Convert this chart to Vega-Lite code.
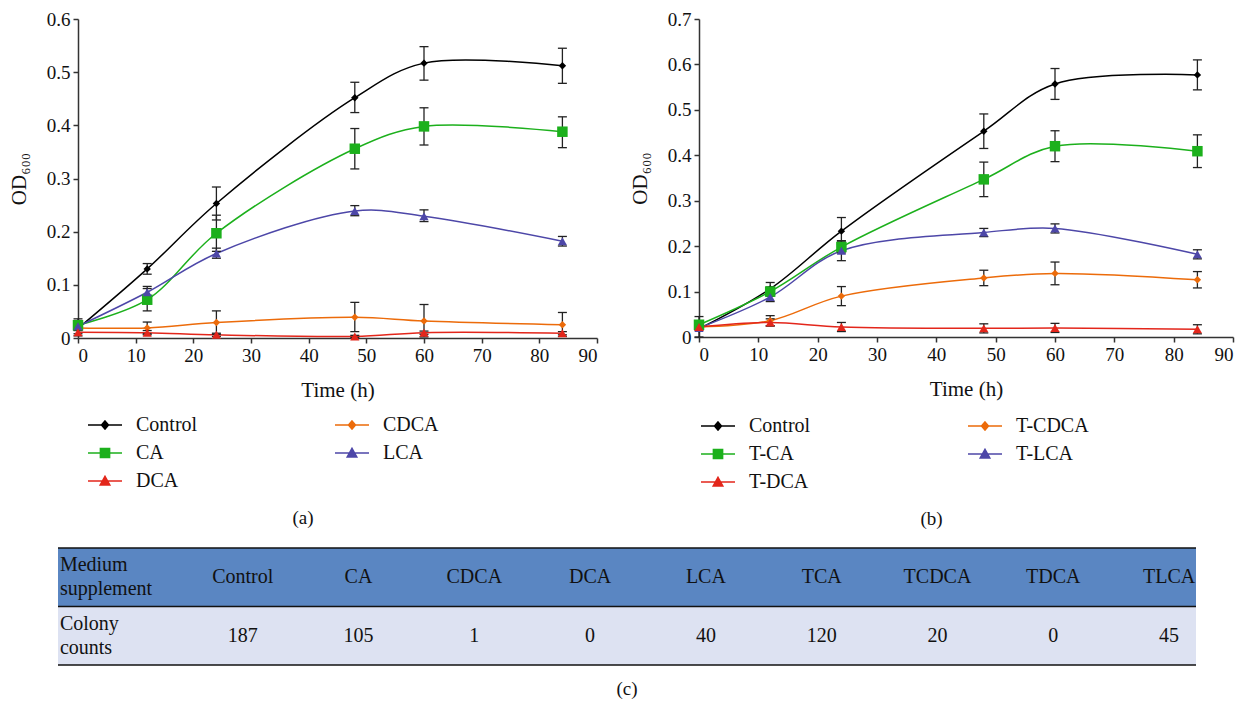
{
  "$schema": "https://vega.github.io/schema/vega-lite/v6.json",
  "background": "white",
  "padding": {"left": 8, "top": 10, "right": 5, "bottom": 5},
  "config": {
    "view": {"stroke": null},
    "font": "Liberation Serif",
    "style": {"guide-label": {"font": "Liberation Serif"}, "guide-title": {"font": "Liberation Serif"}, "group-title": {"font": "Liberation Serif"}},
    "axis": {"labelFont": "Liberation Serif", "titleFont": "Liberation Serif", "labelFontSize": 19, "titleFontSize": 21, "titleFontWeight": "normal", "labelColor": "#111", "titleColor": "#111", "domainColor": "#333", "tickColor": "#333", "domainWidth": 1.5, "tickWidth": 1.5, "tickSize": 5, "grid": false, "labelPadding": 3},
    "legend": {"labelFont": "Liberation Serif", "labelFontSize": 20, "labelColor": "#111"},
    "title": {"font": "Liberation Serif", "fontSize": 19, "fontWeight": "normal", "color": "#111"}
  },
  "datasets": {
    "a": [
      {"s": "Control", "t": 0, "v": 0.018, "lo": 0.004, "hi": 0.036},
      {"s": "Control", "t": 12, "v": 0.13, "lo": 0.12, "hi": 0.14},
      {"s": "Control", "t": 24, "v": 0.253, "lo": 0.222, "hi": 0.284},
      {"s": "Control", "t": 48, "v": 0.452, "lo": 0.424, "hi": 0.481},
      {"s": "Control", "t": 60, "v": 0.517, "lo": 0.485, "hi": 0.548},
      {"s": "Control", "t": 84, "v": 0.512, "lo": 0.479, "hi": 0.545},
      {"s": "CA", "t": 0, "v": 0.024, "lo": 0.018, "hi": 0.03},
      {"s": "CA", "t": 12, "v": 0.072, "lo": 0.051, "hi": 0.093},
      {"s": "CA", "t": 24, "v": 0.197, "lo": 0.163, "hi": 0.231},
      {"s": "CA", "t": 48, "v": 0.356, "lo": 0.318, "hi": 0.394},
      {"s": "CA", "t": 60, "v": 0.398, "lo": 0.363, "hi": 0.433},
      {"s": "CA", "t": 84, "v": 0.388, "lo": 0.358, "hi": 0.416},
      {"s": "LCA", "t": 0, "v": 0.022, "lo": 0.017, "hi": 0.027},
      {"s": "LCA", "t": 12, "v": 0.086, "lo": 0.075, "hi": 0.097},
      {"s": "LCA", "t": 24, "v": 0.159, "lo": 0.15, "hi": 0.169},
      {"s": "LCA", "t": 48, "v": 0.239, "lo": 0.23, "hi": 0.249},
      {"s": "LCA", "t": 60, "v": 0.229, "lo": 0.219, "hi": 0.241},
      {"s": "LCA", "t": 84, "v": 0.182, "lo": 0.173, "hi": 0.191},
      {"s": "CDCA", "t": 0, "v": 0.019, "lo": 0.015, "hi": 0.023},
      {"s": "CDCA", "t": 12, "v": 0.019, "lo": 0.008, "hi": 0.03},
      {"s": "CDCA", "t": 24, "v": 0.029, "lo": 0.007, "hi": 0.051},
      {"s": "CDCA", "t": 48, "v": 0.039, "lo": 0.012, "hi": 0.067},
      {"s": "CDCA", "t": 60, "v": 0.032, "lo": 0.002, "hi": 0.063},
      {"s": "CDCA", "t": 84, "v": 0.025, "lo": 0.003, "hi": 0.048},
      {"s": "DCA", "t": 0, "v": 0.011, "lo": 0.008, "hi": 0.014},
      {"s": "DCA", "t": 12, "v": 0.01, "lo": 0.006, "hi": 0.014},
      {"s": "DCA", "t": 24, "v": 0.006, "lo": 0.003, "hi": 0.009},
      {"s": "DCA", "t": 48, "v": 0.003, "lo": 0.001, "hi": 0.005},
      {"s": "DCA", "t": 60, "v": 0.01, "lo": 0.007, "hi": 0.013},
      {"s": "DCA", "t": 84, "v": 0.009, "lo": 0.006, "hi": 0.012}
    ],
    "b": [
      {"s": "Control", "t": 0, "v": 0.018, "lo": 0.0, "hi": 0.045},
      {"s": "Control", "t": 12, "v": 0.106, "lo": 0.092, "hi": 0.12},
      {"s": "Control", "t": 24, "v": 0.233, "lo": 0.204, "hi": 0.263},
      {"s": "Control", "t": 48, "v": 0.453, "lo": 0.415, "hi": 0.491},
      {"s": "Control", "t": 60, "v": 0.557, "lo": 0.523, "hi": 0.591},
      {"s": "Control", "t": 84, "v": 0.577, "lo": 0.544, "hi": 0.61},
      {"s": "T-CA", "t": 0, "v": 0.027, "lo": 0.022, "hi": 0.032},
      {"s": "T-CA", "t": 12, "v": 0.1, "lo": 0.09, "hi": 0.11},
      {"s": "T-CA", "t": 24, "v": 0.198, "lo": 0.185, "hi": 0.211},
      {"s": "T-CA", "t": 48, "v": 0.347, "lo": 0.309, "hi": 0.385},
      {"s": "T-CA", "t": 60, "v": 0.42, "lo": 0.386, "hi": 0.454},
      {"s": "T-CA", "t": 84, "v": 0.409, "lo": 0.373, "hi": 0.445},
      {"s": "T-LCA", "t": 0, "v": 0.02, "lo": 0.015, "hi": 0.025},
      {"s": "T-LCA", "t": 12, "v": 0.088, "lo": 0.078, "hi": 0.098},
      {"s": "T-LCA", "t": 24, "v": 0.19, "lo": 0.168, "hi": 0.212},
      {"s": "T-LCA", "t": 48, "v": 0.23, "lo": 0.221, "hi": 0.239},
      {"s": "T-LCA", "t": 60, "v": 0.239, "lo": 0.229, "hi": 0.249},
      {"s": "T-LCA", "t": 84, "v": 0.182, "lo": 0.172, "hi": 0.192},
      {"s": "T-CDCA", "t": 0, "v": 0.022, "lo": 0.018, "hi": 0.026},
      {"s": "T-CDCA", "t": 12, "v": 0.036, "lo": 0.025, "hi": 0.047},
      {"s": "T-CDCA", "t": 24, "v": 0.09, "lo": 0.069, "hi": 0.111},
      {"s": "T-CDCA", "t": 48, "v": 0.13, "lo": 0.113, "hi": 0.147},
      {"s": "T-CDCA", "t": 60, "v": 0.14, "lo": 0.115, "hi": 0.165},
      {"s": "T-CDCA", "t": 84, "v": 0.126, "lo": 0.108, "hi": 0.144},
      {"s": "T-DCA", "t": 0, "v": 0.022, "lo": 0.019, "hi": 0.025},
      {"s": "T-DCA", "t": 12, "v": 0.032, "lo": 0.024, "hi": 0.04},
      {"s": "T-DCA", "t": 24, "v": 0.022, "lo": 0.012, "hi": 0.032},
      {"s": "T-DCA", "t": 48, "v": 0.019, "lo": 0.009, "hi": 0.029},
      {"s": "T-DCA", "t": 60, "v": 0.02, "lo": 0.01, "hi": 0.03},
      {"s": "T-DCA", "t": 84, "v": 0.017, "lo": 0.007, "hi": 0.027}
    ],
    "cols": [
      {"col": "Control", "n": 187},
      {"col": "CA", "n": 105},
      {"col": "CDCA", "n": 1},
      {"col": "DCA", "n": 0},
      {"col": "LCA", "n": 40},
      {"col": "TCA", "n": 120},
      {"col": "TCDCA", "n": 20},
      {"col": "TDCA", "n": 0},
      {"col": "TLCA", "n": 45}
    ],
    "rows": [
      {"row": "header", "label": "Medium\nsupplement"},
      {"row": "data", "label": "Colony\ncounts"}
    ]
  },
  "spacing": 18,
  "resolve": {
    "scale": {"color": "independent", "fill": "independent", "stroke": "independent", "shape": "independent", "x": "independent", "y": "independent"},
    "legend": {"color": "independent", "fill": "independent", "stroke": "independent", "shape": "independent"}
  },
  "vconcat": [
    {
      "spacing": 31,
      "resolve": {
        "scale": {"color": "independent", "fill": "independent", "stroke": "independent", "shape": "independent", "x": "independent", "y": "independent"},
        "legend": {"color": "independent", "fill": "independent", "stroke": "independent", "shape": "independent"}
      },
      "hconcat": [
        {
          "width": 519,
          "height": 319,
          "data": {"name": "a"},
          "title": {"text": "(a)", "orient": "bottom", "frame": "bounds", "anchor": "middle", "offset": 18},
          "encoding": {
            "x": {"field": "t", "type": "quantitative", "scale": {"domain": [0, 90], "nice": false}, "axis": {"values": [0, 10, 20, 30, 40, 50, 60, 70, 80, 90], "title": "Time (h)", "titlePadding": 14, "labelFont": "Liberation Serif", "titleFont": "Liberation Serif"}},
            "y": {"field": "v", "type": "quantitative", "scale": {"domain": [0, 0.6], "nice": false}, "axis": {"values": [0, 0.1, 0.2, 0.3, 0.4, 0.5, 0.6], "format": "~g", "title": "OD₆₀₀", "titlePadding": 17, "labelFont": "Liberation Serif", "titleFont": "Liberation Serif"}}
          },
          "layer": [
            {"mark": {"type": "line", "interpolate": "catmull-rom", "strokeWidth": 1.5}, "encoding": {"color": {"field": "s", "type": "nominal", "scale": {"domain": ["CA", "Control", "DCA", "CDCA", "LCA"], "range": ["#1cb01c", "#000000", "#e3261b", "#ec6b0a", "#4d47a8"]}, "legend": null}}},
            {"mark": {"type": "rule", "color": "#222", "strokeWidth": 1.3}, "encoding": {"y": {"field": "lo", "type": "quantitative"}, "y2": {"field": "hi"}}},
            {"mark": {"type": "tick", "orient": "horizontal", "color": "#222", "thickness": 1.3, "size": 9, "opacity": 1}, "encoding": {"y": {"field": "lo", "type": "quantitative"}}},
            {"mark": {"type": "tick", "orient": "horizontal", "color": "#222", "thickness": 1.3, "size": 9, "opacity": 1}, "encoding": {"y": {"field": "hi", "type": "quantitative"}}},
            {"transform": [{"filter": {"field": "s", "oneOf": ["Control", "CDCA"]}}], "mark": {"type": "point", "shape": "diamond", "filled": true, "size": 55, "opacity": 1}, "encoding": {"color": {"field": "s", "type": "nominal", "legend": null}}},
            {"transform": [{"filter": {"field": "s", "oneOf": ["CA"]}}], "mark": {"type": "point", "shape": "square", "filled": true, "size": 110, "opacity": 1}, "encoding": {"color": {"field": "s", "type": "nominal", "legend": null}}},
            {"transform": [{"filter": {"field": "s", "oneOf": ["LCA", "DCA"]}}], "mark": {"type": "point", "shape": "triangle-up", "filled": true, "size": 85, "opacity": 1}, "encoding": {"color": {"field": "s", "type": "nominal", "legend": null}}},
            {"transform": [{"filter": {"field": "t", "lt": -1}}], "mark": {"type": "point", "filled": true, "size": 400, "opacity": 1, "strokeWidth": 1.5},
              "encoding": {
                "fill": {"field": "s", "type": "nominal", "scale": {"domain": ["Control", "CA", "DCA", "CDCA", "LCA"], "range": ["#000000", "#1cb01c", "#e3261b", "#ec6b0a", "#4d47a8"]}, "legend": {"orient": "none", "legendX": 16, "legendY": 395, "columns": 2, "columnPadding": 134, "rowPadding": 7, "padding": 0, "title": null, "labelOffset": 20, "symbolSize": 400, "symbolStrokeWidth": 1.5, "labelFont": "Liberation Serif", "labelFontSize": 20}},
                "stroke": {"field": "s", "type": "nominal", "scale": {"domain": ["Control", "CA", "DCA", "CDCA", "LCA"], "range": ["#000000", "#1cb01c", "#e3261b", "#ec6b0a", "#4d47a8"]}, "legend": {"orient": "none", "legendX": 16, "legendY": 395, "columns": 2, "columnPadding": 134, "rowPadding": 7, "padding": 0, "title": null, "labelOffset": 20, "symbolSize": 400, "symbolStrokeWidth": 1.5, "labelFont": "Liberation Serif", "labelFontSize": 20}},
                "shape": {"field": "s", "type": "nominal", "scale": {"domain": ["Control", "CA", "DCA", "CDCA", "LCA"], "range": ["M-1.7,0H1.7M0,-0.4L0.35,0L0,0.4L-0.35,0Z", "M-1.7,0H1.7M-0.46,-0.46H0.46V0.46H-0.46Z", "M-1.7,0H1.7M0,-0.46L0.48,0.4H-0.48Z", "M-1.7,0H1.7M0,-0.4L0.35,0L0,0.4L-0.35,0Z", "M-1.7,0H1.7M0,-0.46L0.48,0.4H-0.48Z"]}, "legend": {"orient": "none", "legendX": 16, "legendY": 395, "columns": 2, "columnPadding": 134, "rowPadding": 7, "padding": 0, "title": null, "labelOffset": 20, "symbolSize": 400, "symbolStrokeWidth": 1.5, "labelFont": "Liberation Serif", "labelFontSize": 20}}
              }
            }
          ]
        },
        {
          "width": 534,
          "height": 318,
          "data": {"name": "b"},
          "title": {"text": "(b)", "orient": "bottom", "frame": "bounds", "anchor": "middle", "offset": 18},
          "encoding": {
            "x": {"field": "t", "type": "quantitative", "scale": {"domain": [0, 90], "nice": false}, "axis": {"values": [0, 10, 20, 30, 40, 50, 60, 70, 80, 90], "title": "Time (h)", "titlePadding": 14, "labelFont": "Liberation Serif", "titleFont": "Liberation Serif"}},
            "y": {"field": "v", "type": "quantitative", "scale": {"domain": [0, 0.7], "nice": false}, "axis": {"values": [0, 0.1, 0.2, 0.3, 0.4, 0.5, 0.6, 0.7], "format": "~g", "title": "OD₆₀₀", "titlePadding": 17, "labelFont": "Liberation Serif", "titleFont": "Liberation Serif"}}
          },
          "layer": [
            {"mark": {"type": "line", "interpolate": "catmull-rom", "strokeWidth": 1.5}, "encoding": {"color": {"field": "s", "type": "nominal", "scale": {"domain": ["T-CA", "Control", "T-DCA", "T-CDCA", "T-LCA"], "range": ["#1cb01c", "#000000", "#e3261b", "#ec6b0a", "#4d47a8"]}, "legend": null}}},
            {"mark": {"type": "rule", "color": "#222", "strokeWidth": 1.3}, "encoding": {"y": {"field": "lo", "type": "quantitative"}, "y2": {"field": "hi"}}},
            {"mark": {"type": "tick", "orient": "horizontal", "color": "#222", "thickness": 1.3, "size": 9, "opacity": 1}, "encoding": {"y": {"field": "lo", "type": "quantitative"}}},
            {"mark": {"type": "tick", "orient": "horizontal", "color": "#222", "thickness": 1.3, "size": 9, "opacity": 1}, "encoding": {"y": {"field": "hi", "type": "quantitative"}}},
            {"transform": [{"filter": {"field": "s", "oneOf": ["Control", "T-CDCA"]}}], "mark": {"type": "point", "shape": "diamond", "filled": true, "size": 55, "opacity": 1}, "encoding": {"color": {"field": "s", "type": "nominal", "legend": null}}},
            {"transform": [{"filter": {"field": "s", "oneOf": ["T-CA"]}}], "mark": {"type": "point", "shape": "square", "filled": true, "size": 110, "opacity": 1}, "encoding": {"color": {"field": "s", "type": "nominal", "legend": null}}},
            {"transform": [{"filter": {"field": "s", "oneOf": ["T-LCA", "T-DCA"]}}], "mark": {"type": "point", "shape": "triangle-up", "filled": true, "size": 85, "opacity": 1}, "encoding": {"color": {"field": "s", "type": "nominal", "legend": null}}},
            {"transform": [{"filter": {"field": "t", "lt": -1}}], "mark": {"type": "point", "filled": true, "size": 400, "opacity": 1, "strokeWidth": 1.5},
              "encoding": {
                "fill": {"field": "s", "type": "nominal", "scale": {"domain": ["Control", "T-CA", "T-DCA", "T-CDCA", "T-LCA"], "range": ["#000000", "#1cb01c", "#e3261b", "#ec6b0a", "#4d47a8"]}, "legend": {"orient": "none", "legendX": 8, "legendY": 396, "columns": 2, "columnPadding": 154, "rowPadding": 7, "padding": 0, "title": null, "labelOffset": 20, "symbolSize": 400, "symbolStrokeWidth": 1.5, "labelFont": "Liberation Serif", "labelFontSize": 20}},
                "stroke": {"field": "s", "type": "nominal", "scale": {"domain": ["Control", "T-CA", "T-DCA", "T-CDCA", "T-LCA"], "range": ["#000000", "#1cb01c", "#e3261b", "#ec6b0a", "#4d47a8"]}, "legend": {"orient": "none", "legendX": 8, "legendY": 396, "columns": 2, "columnPadding": 154, "rowPadding": 7, "padding": 0, "title": null, "labelOffset": 20, "symbolSize": 400, "symbolStrokeWidth": 1.5, "labelFont": "Liberation Serif", "labelFontSize": 20}},
                "shape": {"field": "s", "type": "nominal", "scale": {"domain": ["Control", "T-CA", "T-DCA", "T-CDCA", "T-LCA"], "range": ["M-1.7,0H1.7M0,-0.4L0.35,0L0,0.4L-0.35,0Z", "M-1.7,0H1.7M-0.46,-0.46H0.46V0.46H-0.46Z", "M-1.7,0H1.7M0,-0.46L0.48,0.4H-0.48Z", "M-1.7,0H1.7M0,-0.4L0.35,0L0,0.4L-0.35,0Z", "M-1.7,0H1.7M0,-0.46L0.48,0.4H-0.48Z"]}, "legend": {"orient": "none", "legendX": 8, "legendY": 396, "columns": 2, "columnPadding": 154, "rowPadding": 7, "padding": 0, "title": null, "labelOffset": 20, "symbolSize": 400, "symbolStrokeWidth": 1.5, "labelFont": "Liberation Serif", "labelFontSize": 20}}
              }
            }
          ]
        }
      ]
    },
    {
      "width": 1118,
      "height": 117,
      "title": {"text": "(c)", "orient": "bottom", "frame": "bounds", "anchor": "middle", "offset": 14},
      "resolve": {"scale": {"x": "independent"}},
      "layer": [
        {"data": {"name": "rows"}, "mark": {"type": "rect"}, "encoding": {
          "x": {"datum": 0, "type": "quantitative", "scale": {"domain": [0, 1], "range": [-20, 1118]}, "axis": null},
          "x2": {"datum": 1},
          "y": {"field": "row", "type": "nominal", "scale": {"domain": ["header", "data"], "paddingInner": 0, "paddingOuter": 0}, "axis": null},
          "fill": {"field": "row", "type": "nominal", "scale": {"domain": ["header", "data"], "range": ["#5a86c2", "#dde2f2"]}, "legend": null}}},
        {"data": {"name": "rows"}, "mark": {"type": "rule", "color": "#111", "strokeWidth": 1.5}, "encoding": {
          "x": {"datum": 0, "type": "quantitative", "scale": {"domain": [0, 1], "range": [-20, 1118]}, "axis": null},
          "x2": {"datum": 1},
          "y": {"field": "row", "type": "nominal", "bandPosition": 0, "axis": null}}},
        {"data": {"name": "rows"}, "transform": [{"filter": {"field": "row", "equal": "data"}}], "mark": {"type": "rule", "color": "#111", "strokeWidth": 1.5}, "encoding": {
          "x": {"datum": 0, "type": "quantitative", "scale": {"domain": [0, 1], "range": [-20, 1118]}, "axis": null},
          "x2": {"datum": 1},
          "y": {"field": "row", "type": "nominal", "bandPosition": 1, "axis": null}}},
        {"data": {"name": "rows"}, "mark": {"type": "text", "align": "left", "baseline": "middle", "fontSize": 20, "lineHeight": 24, "lineBreak": "\n", "color": "#111", "dx": -67, "dy": -12}, "encoding": {
          "x": {"datum": "_label", "type": "nominal", "scale": {"domain": ["_label", "Control", "CA", "CDCA", "DCA", "LCA", "TCA", "TCDCA", "TDCA", "TLCA"], "range": [-9, 1149], "paddingInner": 0, "paddingOuter": 0}, "axis": null},
          "y": {"field": "row", "type": "nominal", "axis": null},
          "text": {"field": "label"}}},
        {"data": {"name": "cols"}, "mark": {"type": "text", "align": "center", "baseline": "middle", "fontSize": 20, "color": "#111"}, "encoding": {
          "x": {"field": "col", "type": "nominal", "scale": {"domain": ["_label", "Control", "CA", "CDCA", "DCA", "LCA", "TCA", "TCDCA", "TDCA", "TLCA"], "range": [-9, 1149], "paddingInner": 0, "paddingOuter": 0}, "axis": null},
          "y": {"datum": "header", "type": "nominal", "axis": null},
          "text": {"field": "col"}}},
        {"data": {"name": "cols"}, "mark": {"type": "text", "align": "center", "baseline": "middle", "fontSize": 20, "color": "#111"}, "encoding": {
          "x": {"field": "col", "type": "nominal", "scale": {"domain": ["_label", "Control", "CA", "CDCA", "DCA", "LCA", "TCA", "TCDCA", "TDCA", "TLCA"], "range": [-9, 1149], "paddingInner": 0, "paddingOuter": 0}, "axis": null},
          "y": {"datum": "data", "type": "nominal", "axis": null},
          "text": {"field": "n"}}}
      ]
    }
  ]
}
